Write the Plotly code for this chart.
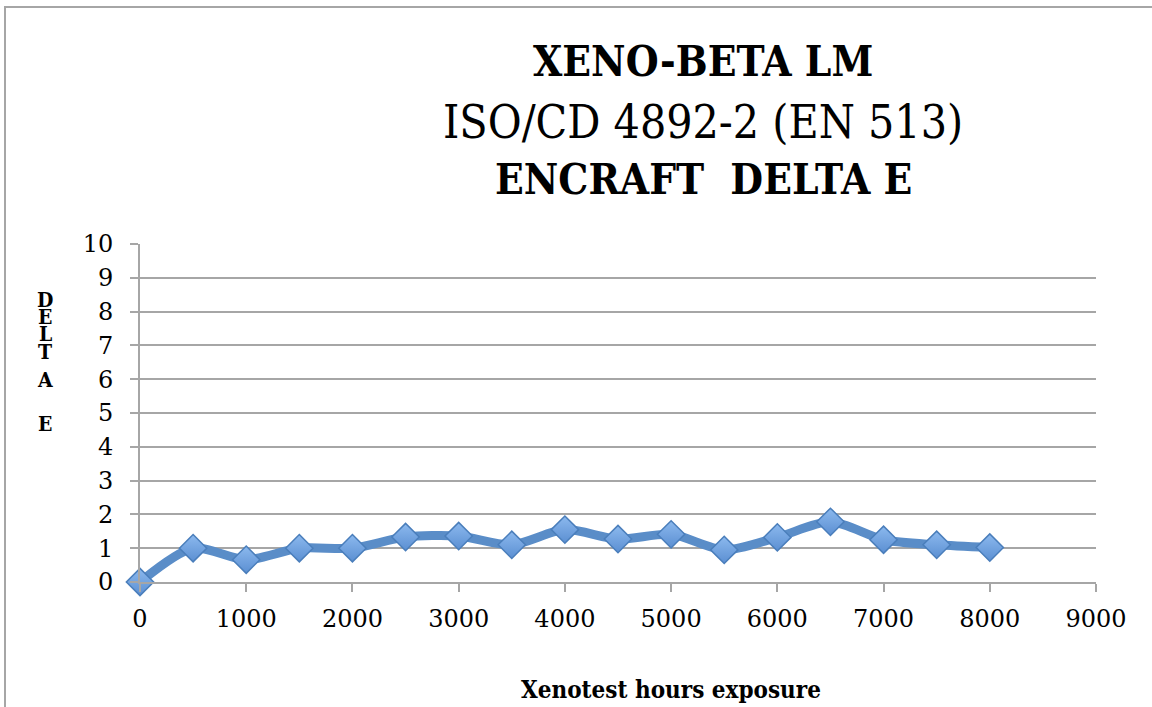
import plotly.graph_objects as go

hours = [0, 500, 1000, 1500, 2000, 2500, 3000, 3500, 4000, 4500, 5000, 5500, 6000, 6500, 7000, 7500, 8000]
delta_e = [0.0, 1.0, 0.66, 1.0, 1.0, 1.33, 1.36, 1.1, 1.55, 1.27, 1.41, 0.95, 1.32, 1.78, 1.25, 1.1, 1.02]

title_lines = ["XENO-BETA LM", "ISO/CD 4892-2 (EN 513)", "ENCRAFT  DELTA E"]
x_title = "Xenotest hours exposure"
y_title_letters = ["D", "E", "L", "T", "A", "E"]
x_ticks = list(range(0, 9001, 1000))
y_ticks = list(range(0, 11))

W, H = 1152, 707
L, R, T, B = 140, 56, 244, 125
PW, PH = W - L - R, H - T - B

def px_x(px):
    return (px - L) / PW

def px_y(py):
    return (H - B - py) / PH

SERIF = "DejaVu Serif"
SERIF_C = "DejaVu Serif Condensed"

fig = go.Figure()
fig.add_trace(go.Scatter(
    x=hours, y=delta_e, mode="lines+markers",
    line=dict(color="#5A8DC8", width=9, shape="spline", smoothing=0.8),
    marker=dict(symbol="diamond", size=21, color="#8CB9EE",
                gradient=dict(type="vertical", color="#5B8FD2"),
                line=dict(color="#4A7EBB", width=1.5)),
    cliponaxis=False, showlegend=False,
))

fig.update_xaxes(range=[0, 9000], tickvals=x_ticks, showgrid=False,
                 showline=True, linecolor="#A6A6A6", linewidth=2,
                 ticks="outside", ticklen=8, tickcolor="#A6A6A6", tickwidth=2,
                 tickfont=dict(family=SERIF, size=24, color="#000"),
                 zeroline=False, ticklabelstandoff=6)
fig.update_yaxes(range=[0, 10], tickvals=y_ticks, showgrid=True,
                 gridcolor="#A6A6A6", gridwidth=2,
                 showline=True, linecolor="#A6A6A6", linewidth=2,
                 ticks="outside", ticklen=8, tickcolor="#A6A6A6", tickwidth=2,
                 tickfont=dict(family=SERIF, size=24, color="#000"),
                 zeroline=False, ticklabelstandoff=12)

ann = []
title_y = [62, 122, 180]
title_bold = [True, False, True]
title_size = [42, 46, 42]
for txt, py, b, fs in zip(title_lines, title_y, title_bold, title_size):
    ann.append(dict(text=f"<b>{txt}</b>" if b else txt, x=px_x(703), y=px_y(py),
                    xref="paper", yref="paper", showarrow=False,
                    xanchor="center", yanchor="middle",
                    font=dict(family=SERIF_C, size=fs, color="#000")))
ann.append(dict(text=f"<b>{x_title}</b>", x=px_x(671), y=px_y(689),
                xref="paper", yref="paper", showarrow=False,
                xanchor="center", yanchor="middle",
                font=dict(family=SERIF_C, size=24, color="#000")))
letter_y = [299, 316, 333, 351, 379, 423]
for ch, py in zip(y_title_letters, letter_y):
    ann.append(dict(text=f"<b>{ch}</b>", x=px_x(45), y=px_y(py),
                    xref="paper", yref="paper", showarrow=False,
                    xanchor="center", yanchor="middle",
                    font=dict(family=SERIF_C, size=21, color="#000")))

fig.update_layout(
    width=W, height=H, margin=dict(l=L, r=R, t=T, b=B),
    plot_bgcolor="white", paper_bgcolor="white",
    annotations=ann,
    shapes=[dict(type="rect", xref="paper", yref="paper",
                 x0=px_x(5), x1=px_x(1300), y0=px_y(900), y1=px_y(7),
                 line=dict(color="#A6A6A6", width=2), layer="below")],
)

fig.write_html("out.html", config={"displayModeBar": False},
               post_script="document.body.style.margin='0px';document.body.style.overflow='hidden';")
